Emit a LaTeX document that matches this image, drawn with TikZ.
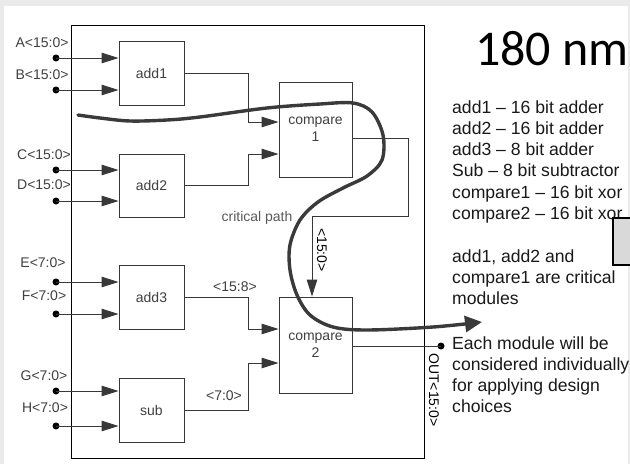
\documentclass[tikz,border=0pt]{standalone}
\usepackage{fontspec}
\setmainfont{Liberation Sans}
\newfontfamily\calib{Carlito}
\usetikzlibrary{arrows.meta}
\definecolor{bgray}{HTML}{EAEAEA}
\definecolor{lgray}{HTML}{383838}
\definecolor{tgray}{HTML}{404040}
\definecolor{cpath}{HTML}{3A3A3A}
\definecolor{boxfill}{HTML}{D9D9D9}
\begin{document}
\begin{tikzpicture}[x=1pt,y=-1pt,
  blk/.style={draw=lgray, line width=0.9pt, minimum width=65pt, minimum height=64pt, inner sep=0pt,
    font=\fontsize{14}{17}\selectfont, text=tgray, align=center},
  lbl/.style={font=\fontsize{14}{17}\selectfont, text=tgray, inner sep=0pt},
  dot/.style={circle, fill=black, inner sep=0pt, minimum size=7pt},
  wire/.style={draw=lgray, line width=0.9pt},
  arr/.style={wire, -{Triangle[length=17pt,width=10.5pt]}},
  txt/.style={font=\fontsize{17.6}{21}\selectfont, text=black!90, anchor=base west, inner sep=0pt}
]
\fill[bgray] (0,0) rectangle (630,464);
\fill[white] (4,6) rectangle (628,464);
\useasboundingbox (0,0) rectangle (630,464);

% outer frame
\draw[black, line width=1pt] (71.5,25) rectangle (424,458);

% blocks
\node[blk] (add1) at (151.5,73) {add1};
\node[blk, minimum height=63pt] (add2) at (151.5,185.5) {add2};
\node[blk] (add3) at (151.5,297) {add3};
\node[blk] (sub) at (151.5,410) {sub};
\node[blk, minimum width=73pt, minimum height=95pt] (cmp1) at (315.5,129.5) {compare\\1};
\node[blk, minimum width=73pt, minimum height=96pt] (cmp2) at (315.5,345) {compare\\2};

% inputs
\node[dot] (dA) at (56,58) {};  \node[lbl] (lA) at (42,43) {A<15:0>};
\node[dot] (dB) at (56,90) {};  \node[lbl] (lB) at (42,75) {B<15:0>};
\node[dot] (dC) at (56,170) {}; \node[lbl] (lC) at (44,155) {C<15:0>};
\node[dot] (dD) at (56,201) {}; \node[lbl] (lD) at (44,185) {D<15:0>};
\node[dot] (dE) at (56,282) {}; \node[lbl] (lE) at (43,263) {E<7:0>};
\node[dot] (dF) at (56,314) {}; \node[lbl] (lF) at (44,296) {F<7:0>};
\node[dot] (dG) at (56,391) {}; \node[lbl] (lG) at (44,376) {G<7:0>};
\node[dot] (dH) at (56,426) {}; \node[lbl] (lH) at (45,408) {H<7:0>};

\draw[arr] (dA.center) -- (dA.center -| add1.west);
\draw[arr] (dB.center) -- (dB.center -| add1.west);
\draw[arr] (dC.center) -- (dC.center -| add2.west);
\draw[arr] (dD.center) -- (dD.center -| add2.west);
\draw[arr] (dE.center) -- (dE.center -| add3.west);
\draw[arr] (dF.center) -- (dF.center -| add3.west);
\draw[arr] (dG.center) -- (dG.center -| sub.west);
\draw[arr] (dH.center) -- (dH.center -| sub.west);

% internal wires
\draw[arr] (add1.east) -- ++(64,0) |- (cmp1.west |- 0,122);
\draw[arr] (add2.east) -- ++(64,0) |- (cmp1.west |- 0,154);
\draw[arr] (add3.east) -- ++(64,0) |- (cmp2.west |- 0,329);
\draw[arr] (sub.east) -- ++(64,0) |- (cmp2.west |- 0,363);
\draw[arr] (cmp1.east |- 0,138) -- ++(56,0) -- ++(0,78.5) -| ([xshift=-3.5pt]cmp2.north);

\node[dot] (dOut) at (441,346) {};
\draw[wire] (cmp2.east |- dOut) -- (dOut.center);

% wire labels
\node[lbl] (l158) at (235,287) {<15:8>};
\node[lbl] (l70) at (224,396) {<7:0>};
\node[lbl, rotate=-90, text=black] (l150) at (322,250) {<15:0>};
\node[lbl, rotate=-90, text=black] (lout) at (434,390) {OUT<15:0>};
\node[lbl, text=black!65] (cp) at (257,218) {critical path};

% critical path
\draw[cpath, line width=3.4pt, line cap=round, -{Triangle[length=17pt,width=16pt]}]
  plot[smooth, tension=0.55] coordinates {
  (78,115) (100,118) (130,121) (167,120) (200,117) (267,108) (320,104) (353,103)
  (372,112) (383,135) (382,160) (367,176) (343,188) (318,202) (300,220) (290,245)
  (290,270) (297,295) (310,315) (333,327) (367,330) (433,327) (482,322)};

% right panel
\node[font=\calib\fontsize{50}{60}\selectfont, anchor=base west, inner sep=0pt] (title) at (475,65) {180 nm};

\node[txt] (t1) at (452,113) {add1 – 16 bit adder};
\node[txt] (t2) at (452,134.3) {add2 – 16 bit adder};
\node[txt] (t3) at (452,155.6) {add3 – 8 bit adder};
\node[txt] (t4) at (452,176.9) {Sub – 8 bit subtractor};
\node[txt] (t5) at (452,198.2) {compare1 – 16 bit xor};
\node[txt] (t6) at (452,219.5) {compare2 – 16 bit xor};

\node[txt] (p1) at (452,262) {add1, add2 and};
\node[txt] (p2) at (452,283.3) {compare1 are critical};
\node[txt] (p3) at (452,304.5) {modules};

\node[txt] (q1) at (452,349) {Each module will be};
\node[txt] (q2) at (452,370) {considered individually};
\node[txt] (q3) at (452,391) {for applying design};
\node[txt] (q4) at (452,412) {choices};

\draw[black, line width=2pt, fill=boxfill] (613,218) rectangle (640,265);
\end{tikzpicture}
\end{document}
